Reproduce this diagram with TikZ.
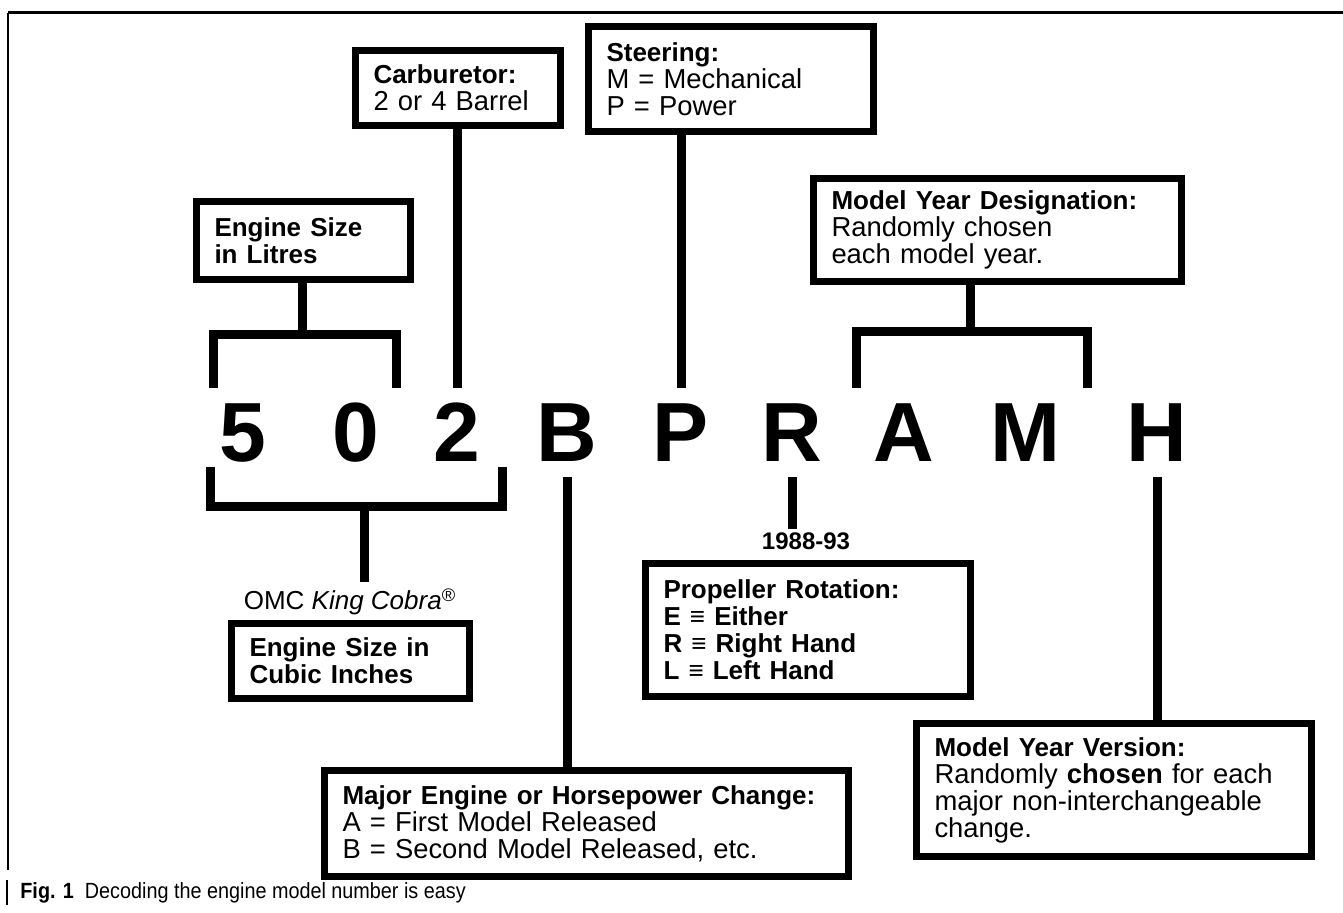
\documentclass[tikz,border=0pt]{standalone}
\usepackage{fontspec}
\setmainfont{Liberation Sans}
\newfontfamily\narrowfont[FakeStretch=0.9]{Liberation Sans}
\newcommand{\hd}[1]{{\fontsize{13}{14}\selectfont\bfseries #1}}
\tikzset{
  infobox/.style={draw, line width=3.5pt, fill=white, anchor=north west, align=left,
    inner xsep=9pt, inner ysep=0pt, font=\fontsize{13.7}{13.5}\selectfont},
  leader/.style={line width=4.5pt},
  glyph/.style={anchor=base, inner sep=0pt, font=\fontsize{42}{42}\selectfont\bfseries},
}
\begin{document}
\begin{tikzpicture}[x=0.5pt,y=-0.5pt]
  \fill[white] (0,0) rectangle (1343,913);
  \useasboundingbox (0,0) rectangle (1343,913);
  \draw[line width=1.5pt] (8,13) -- (1343,13);
  \draw[line width=1pt] (8,13) -- (8,870);
  \draw[line width=1pt] (7,880) -- (7,905);

  % the model number
  \node[glyph] (c1) at (243,462) {5};
  \node[glyph] (c2) at (356,462) {0};
  \node[glyph] (c3) at (457,462) {2};
  \node[glyph] (c4) at (567,462) {B};
  \node[glyph] (c5) at (681,462) {P};
  \node[glyph] (c6) at (792,462) {R};
  \node[glyph] (c7) at (904,462) {A};
  \node[glyph] (c8) at (1025,462) {M};
  \node[glyph] (c9) at (1157,462) {H};

  % boxes above
  \node[infobox, text width=89pt, minimum height=39pt] (litres) at (193,198)
    {\hd{Engine Size}\\\hd{in Litres}};
  \node[infobox, text width=84.5pt, minimum height=37.5pt] (carb) at (352,47)
    {\hd{Carburetor:}\\2 or 4 Barrel};
  \node[infobox, text width=124.5pt, minimum height=52.5pt] (steer) at (585,23)
    {\hd{Steering:}\\M = Mechanical\\P = Power};
  \node[infobox, text width=166pt, minimum height=51.5pt] (myd) at (810,175)
    {\hd{Model Year Designation:}\\Randomly chosen\\each model year.};

  % boxes below
  \node[anchor=base, font=\fontsize{13}{13}\selectfont] (omc) at (350,610)
    {OMC \textit{King Cobra}\textsuperscript{®}};
  \node[infobox, text width=101pt, minimum height=37.5pt] (cubic) at (228,620)
    {\hd{Engine Size in}\\\hd{Cubic Inches}};
  \node[anchor=base, inner sep=2pt, font=\fontsize{12}{12}\selectfont\bfseries] (yr) at (806,550) {1988-93};
  \node[infobox, text width=144.5pt, minimum height=66.5pt] (prop) at (642,560)
    {\hd{Propeller Rotation:}\\\hd{E ≡ Either}\\\hd{R ≡ Right Hand}\\\hd{L ≡ Left Hand}};
  \node[infobox, text width=244pt, minimum height=53pt] (major) at (321,767)
    {\hd{Major Engine or Horsepower Change:}\\A = First Model Released\\B = Second Model Released, etc.};
  \node[infobox, text width=179.5pt, minimum height=66.5pt] (myv) at (913,720)
    {\hd{Model Year Version:}\\Randomly \textbf{chosen} for each\\major non-interchangeable\\change.};

  \node[anchor=base west, inner sep=0pt, font=\narrowfont\fontsize{11}{11}\selectfont] (caption) at (20,898)
    {\textbf{Fig. 1}\enspace Decoding the engine model number is easy};

  \coordinate (tops) at (0,388);
  \coordinate (bots) at (0,477);
  \coordinate (forkA) at (302,335);
  \coordinate (legA1) at (213,388);
  \coordinate (legA2) at (396,388);
  \coordinate (forkB) at (970,332);
  \coordinate (legB1) at (856,388);
  \coordinate (legB2) at (1087,388);
  \coordinate (forkC) at (364,507);
  \coordinate (legC1) at (210,467);
  \coordinate (legC2) at (502,467);

  \draw[leader] (litres.south -| forkA) -- (forkA);
  \draw[leader] (legA1) |- (forkA) -| (legA2);
  \draw[leader] (carb.south -| c3) -- (c3 |- tops);
  \draw[leader] (steer.south -| c5) -- (c5 |- tops);
  \draw[leader] (myd.south -| forkB) -- (forkB);
  \draw[leader] (legB1) |- (forkB) -| (legB2);
  \draw[leader] (legC1) |- (forkC) -| (legC2);
  \draw[leader] (forkC) -- (forkC |- omc.north);
  \draw[leader] (c4 |- bots) -- (major.north -| c4);
  \draw[leader] (c6 |- bots) -- (c6 |- yr.north);
  \draw[leader] (c9 |- bots) -- (myv.north -| c9);
\end{tikzpicture}
\end{document}
